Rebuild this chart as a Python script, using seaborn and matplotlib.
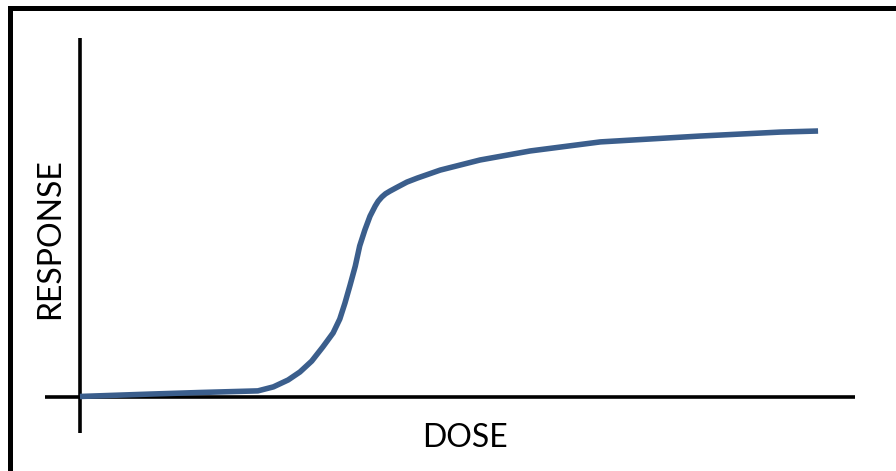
"""
Dose-response curve (sigmoid sketch)
"""
import matplotlib
matplotlib.use("Agg")
import matplotlib.pyplot as plt
import seaborn as sns
import pandas as pd
from matplotlib.patches import Rectangle

# data (dose in % of max range, response in % of max)
dose = [0.0, 9.5, 16.3, 24.1, 26.2, 28.2, 29.8, 31.4, 32.9, 34.3,
        35.2, 35.9, 36.6, 37.3, 37.9, 38.6, 39.3, 40.0, 40.4, 40.9,
        41.4, 42.0, 43.0, 44.3, 45.7, 48.8, 54.2, 61.0, 70.5, 84.0,
        94.9, 100.0]
response = [0.2, 1.1, 1.7, 2.3, 3.8, 6.4, 9.4, 13.5, 18.8, 24.1,
            29.3, 35.3, 42.1, 49.2, 56.8, 62.8, 68.0, 71.8, 73.6, 75.2,
            76.4, 77.4, 78.9, 80.8, 82.3, 85.3, 89.1, 92.5, 95.9, 98.1,
            99.6, 100.0]
x_label = "DOSE"
y_label = "RESPONSE"

df = pd.DataFrame({"dose": dose, "response": response})

sns.set_theme(style="white")
plt.rcParams["font.family"] = ["Lato", "DejaVu Sans"]

fig = plt.figure(figsize=(8.96, 4.71), dpi=100)
ax = fig.add_axes([0.0502, 0.0807, 0.904, 0.8386])

sns.lineplot(data=df, x="dose", y="response", sort=False, ax=ax,
             color="#3B5E8C", lw=4.0, solid_capstyle="butt",
             solid_joinstyle="round")

# crossing axis lines
ax.axhline(0, color="black", lw=2.6, zorder=1)
ax.axvline(0, color="black", lw=2.6, zorder=1)

ax.set_xlim(-4.74, 105.0)
ax.set_ylim(-13.53, 134.96)
ax.set_xticks([])
ax.set_yticks([])
ax.set_xlabel("")
ax.set_ylabel("")
sns.despine(ax=ax, left=True, bottom=True)
ax.patch.set_alpha(0)

fig.text(465 / 896, 1 - 438 / 471, x_label, ha="center", va="center",
         fontsize=23, color="black")
fig.text(50 / 896, 1 - 239 / 471, y_label, ha="center", va="center",
         rotation=90, fontsize=23, color="black")

# outer frame, runs off the right and bottom edges
fig.patches.append(Rectangle((10 / 896, -0.1), 1.2, 1.1 - 8 / 471,
                             transform=fig.transFigure, fill=False,
                             edgecolor="black", lw=3.6))

fig.savefig("out.png", dpi=100)
